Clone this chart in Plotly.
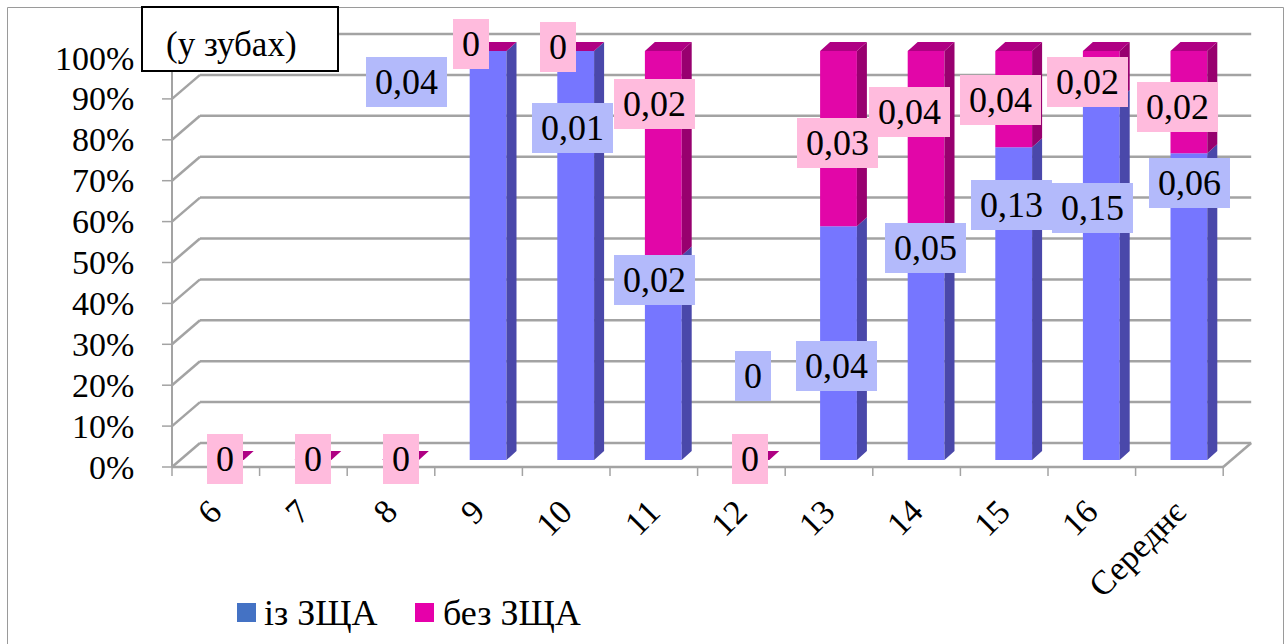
import plotly.graph_objects as go

# ---- data ---------------------------------------------------------------
categories = ["6", "7", "8", "9", "10", "11", "12", "13", "14", "15", "16", "Середнє"]
with_zshcha = [0, 0, 0, 0.04, 0.01, 0.02, 0, 0.04, 0.05, 0.13, 0.15, 0.06]
without_zshcha = [0, 0, 0, 0, 0, 0.02, 0, 0.03, 0.04, 0.04, 0.02, 0.02]
series_names = ["із ЗЩА", "без ЗЩА"]
y_ticks = [0, 10, 20, 30, 40, 50, 60, 70, 80, 90, 100]
unit_title = "(у зубах)"

# data-label placement: (shift from the category, height in %); None = not shown
blue_label_spots = [None, None, None, (-0.93, 92.4), (-0.04, 81.2), (-0.095, 44.0),
                    (0.02, 20.5), (-0.02, 22.9), (-0.01, 51.8), (-0.02, 62.3),
                    (-0.10, 61.6), (0.01, 67.7)]
pink_label_spots = [(0.0, 0.2), (0.0, 0.2), (0.0, 0.2), (-0.19, 101.7), (-0.20, 101.0),
                    (-0.106, 87.0), (-0.016, 0.2), (-0.006, 77.5), (-0.184, 85.1),
                    (-0.156, 88.0), (-0.153, 92.4), (-0.125, 86.3)]

# ---- geometry of the pseudo-3D box ----------------------------------------
W, H = 1287, 644
PXC = 87.6          # px per category
PXP = 4.09          # px per percent
X0_PX = 225.3       # px of category 0 (bar plane)
Y0_PX = 460.0       # px of 0 % (bar plane)
BAR_W = 0.42

FRONT_DX, FRONT_DY = -9.5 / PXC, -7.0 / PXP     # front axis plane
BACK_DX, BACK_DY = 18.5 / PXC, 17.0 / PXP       # back wall plane
DEP_DX, DEP_DY = 10.0 / PXC, 9.0 / PXP          # column depth

x_range = [-X0_PX / PXC, (W - X0_PX) / PXC]
y_range = [(Y0_PX - H) / PXP, Y0_PX / PXP]

FONT = "Liberation Serif"
GRID = "#A3A3A3"
BLUE_FRONT, BLUE_SIDE = "#7676FF", "#4A48AA"
PINK_FRONT, PINK_SIDE, PINK_TOP = "#E206A8", "#98006F", "#AF0083"
BLUE_LABEL_BG, PINK_LABEL_BG = "#B3BAFB", "#FFBBDD"
LEGEND_BLUE, LEGEND_PINK = "#4472C4", "#E600AA"


def to_px_x(x):
    return x / W


def to_px_y(y):
    return 1 - y / H


# ---- 100 % stacked shares -----------------------------------------------
n = len(categories)
xs = list(range(n))
blue_pct, pink_pct = [], []
for a, b in zip(with_zshcha, without_zshcha):
    t = a + b
    blue_pct.append(a / t * 100 if t else 0.0)
    pink_pct.append(b / t * 100 if t else 0.0)
tops = [b + p for b, p in zip(blue_pct, pink_pct)]

fig = go.Figure()

# ---- walls, floor and axis lines ---------------------------------------
shapes = []
left, right = -0.5, n - 0.5


def seg(x0, y0, x1, y1, color=GRID, width=2.5, layer="below"):
    shapes.append(dict(type="line", xref="x", yref="y", x0=x0, y0=y0, x1=x1, y1=y1,
                       line=dict(color=color, width=width), layer=layer))


for p in y_ticks:
    # back wall grid line
    seg(left + BACK_DX, p + BACK_DY, right + BACK_DX, p + BACK_DY)
    # side wall diagonal
    seg(left + FRONT_DX, p + FRONT_DY, left + BACK_DX, p + BACK_DY)
    # tick on the front axis
    shapes.append(dict(type="line", xref="x", yref="y",
                       x0=left + FRONT_DX - 10 / PXC, x1=left + FRONT_DX,
                       y0=p + FRONT_DY, y1=p + FRONT_DY,
                       line=dict(color=GRID, width=1.5), layer="below"))
# floor
seg(left + FRONT_DX, FRONT_DY, right + FRONT_DX, FRONT_DY)
seg(right + FRONT_DX, FRONT_DY, right + BACK_DX, BACK_DY)
# front vertical axis
seg(left + FRONT_DX, FRONT_DY, left + FRONT_DX, 100 + FRONT_DY, width=2)
# category ticks
for k in range(n + 1):
    xk = left + k + FRONT_DX
    shapes.append(dict(type="line", xref="x", yref="y", x0=xk, x1=xk,
                       y0=FRONT_DY, y1=FRONT_DY - 9 / PXP,
                       line=dict(color=GRID, width=1.5), layer="below"))


# ---- side and top faces of the columns ---------------------------------
def faces(lo, hi):
    fx, fy = [], []
    for i in xs:
        if hi[i] - lo[i] <= 0:
            continue
        xr = i + BAR_W / 2
        fx += [xr, xr, xr + DEP_DX, xr + DEP_DX, xr, None]
        fy += [lo[i], hi[i], hi[i] + DEP_DY, lo[i] + DEP_DY, lo[i], None]
    return fx, fy


bx, by = faces([0] * n, blue_pct)
fig.add_trace(go.Scatter(x=bx, y=by, mode="lines", fill="toself", fillcolor=BLUE_SIDE,
                         line=dict(width=0), hoverinfo="skip", showlegend=False))
pk_x, pk_y = faces(blue_pct, tops)
fig.add_trace(go.Scatter(x=pk_x, y=pk_y, mode="lines", fill="toself", fillcolor=PINK_SIDE,
                         line=dict(width=0), hoverinfo="skip", showlegend=False))
tx, ty = [], []
for i in xs:
    xl, xr = i - BAR_W / 2, i + BAR_W / 2
    t = tops[i]
    tx += [xl, xr, xr + DEP_DX, xl + DEP_DX, xl, None]
    ty += [t, t, t + DEP_DY, t + DEP_DY, t, None]
fig.add_trace(go.Scatter(x=tx, y=ty, mode="lines", fill="toself", fillcolor=PINK_TOP,
                         line=dict(width=0), hoverinfo="skip", showlegend=False))

# ---- front faces --------------------------------------------------------
fig.add_trace(go.Bar(x=xs, y=blue_pct, width=BAR_W, name=series_names[0],
                     marker=dict(color=BLUE_FRONT, line=dict(width=0)), showlegend=False))
fig.add_trace(go.Bar(x=xs, y=pink_pct, base=blue_pct, width=BAR_W, name=series_names[1],
                     marker=dict(color=PINK_FRONT, line=dict(width=0)), showlegend=False))

# ---- annotations --------------------------------------------------------
ann = []


def fmt(v):
    return "0" if v == 0 else f"{v:.2f}".replace(".", ",")


def label_width(s):
    em = sum(0.25 if ch == "," else 0.5 for ch in s)
    return round(em * 36 + 18)


for vals, spots, bg in ((with_zshcha, blue_label_spots, BLUE_LABEL_BG),
                        (without_zshcha, pink_label_spots, PINK_LABEL_BG)):
    for i, v in enumerate(vals):
        if spots[i] is None:
            continue
        dx, yy = spots[i]
        s = fmt(v)
        ann.append(dict(x=i + dx, y=yy, xref="x", yref="y", text=s, showarrow=False,
                        font=dict(family=FONT, size=36, color="black"),
                        bgcolor=bg, borderpad=0, borderwidth=0,
                        width=label_width(s), height=50,
                        xanchor="center", yanchor="middle"))

# y tick labels
for p in y_ticks:
    ann.append(dict(x=to_px_x(136), xref="paper", y=p + FRONT_DY, yref="y", text=f"{p}%",
                    showarrow=False, xanchor="right", yanchor="middle",
                    font=dict(family=FONT, size=34, color="black")))

# category labels, rotated
for i, c in enumerate(categories):
    ann.append(dict(x=i + FRONT_DX + 16 / PXC, xref="x", y=to_px_y(490), yref="paper",
                    text=c, showarrow=False, textangle=-45, xanchor="right", yanchor="top",
                    font=dict(family=FONT, size=34, color="black")))

# unit box
shapes.append(dict(type="rect", xref="paper", yref="paper", x0=to_px_x(142), x1=to_px_x(338),
                   y0=to_px_y(71), y1=to_px_y(7), line=dict(color="black", width=2),
                   fillcolor="white", layer="above"))
ann.append(dict(x=to_px_x(231), y=to_px_y(45), xref="paper", yref="paper", text=unit_title,
                showarrow=False, xanchor="center", yanchor="middle",
                font=dict(family=FONT, size=35, color="black")))

# legend
for (x0, x1, tx0, col, name) in ((237, 256, 262, LEGEND_BLUE, series_names[0]),
                                 (415, 434, 441, LEGEND_PINK, series_names[1])):
    shapes.append(dict(type="rect", xref="paper", yref="paper", x0=to_px_x(x0),
                       x1=to_px_x(x1), y0=to_px_y(622), y1=to_px_y(603),
                       line=dict(width=0), fillcolor=col, layer="above"))
    ann.append(dict(x=to_px_x(tx0), y=to_px_y(613), xref="paper", yref="paper", text=name,
                    showarrow=False, xanchor="left", yanchor="middle",
                    font=dict(family=FONT, size=36, color="black")))

# chart frame
shapes.append(dict(type="rect", xref="paper", yref="paper", x0=to_px_x(7.5),
                   x1=to_px_x(1283.5), y0=-0.1, y1=to_px_y(7.5),
                   line=dict(color="#9A9A9A", width=1),
                   fillcolor="rgba(0,0,0,0)", layer="below"))

fig.update_layout(
    width=W, height=H, autosize=False,
    margin=dict(l=0, r=0, t=0, b=0, pad=0),
    paper_bgcolor="white", plot_bgcolor="white",
    barmode="overlay", showlegend=False,
    font=dict(family=FONT),
    xaxis=dict(range=x_range, visible=False, fixedrange=True),
    yaxis=dict(range=y_range, visible=False, fixedrange=True),
    shapes=shapes, annotations=ann,
)

fig.write_html("out.html")
